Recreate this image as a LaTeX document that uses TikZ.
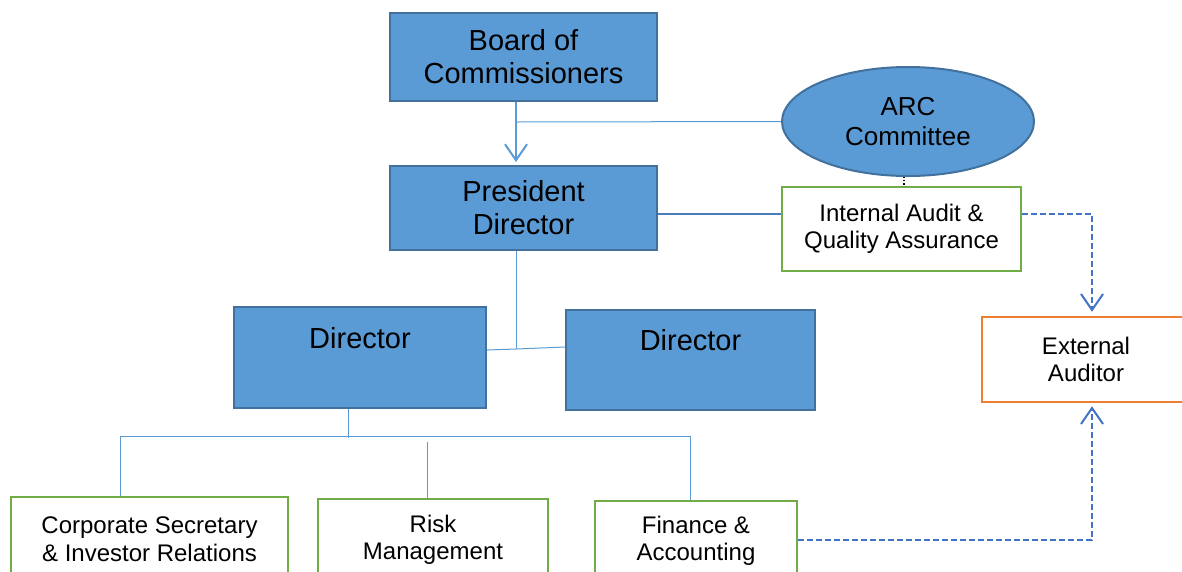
\documentclass[tikz,border=0pt]{standalone}
\usepackage{fontspec}
\setmainfont{Liberation Sans}
\usepackage{tikz}
\usetikzlibrary{calc}
\usetikzlibrary{arrows.meta,shapes.geometric}

\definecolor{boxblue}{HTML}{5B9BD5}
\definecolor{boxedge}{HTML}{41719C}
\definecolor{boxgreen}{HTML}{70AD47}
\definecolor{boxorange}{HTML}{ED7D31}
\definecolor{linkblue}{HTML}{4A7EBB}
\definecolor{dashblue}{HTML}{4472C4}

\begin{document}
\begin{tikzpicture}[x=1pt, y=-1pt,
	bluebox/.style={rectangle, draw=boxedge, line width=2pt, fill=boxblue, align=center, inner sep=0pt, font=\fontsize{29}{33}\selectfont},
	dirbox/.style={bluebox, text height=21pt, text depth=40pt},
	greenbox/.style={rectangle, draw=boxgreen, line width=2.5pt, fill=white, align=center, inner sep=0pt, font=\fontsize{24}{27.5}\selectfont},
	orangebox/.style={greenbox, draw=boxorange},
	orgline/.style={draw=boxblue, line width=1pt},
	vtip/.style={-{Straight Barb[length=16pt,width=22pt,line width=2pt]}},
	dasharrow/.style={draw=dashblue, line width=2pt, dash pattern=on 6pt off 3pt, vtip}]
			\useasboundingbox (0,0) rectangle (1182,571);

			\node[bluebox, minimum width=267pt, minimum height=88pt] (board) at (523.5,57) {Board of\\Commissioners};
			\node[bluebox, minimum width=267pt, minimum height=84pt] (pres) at (523.5,208) {President\\Director};
			\node[ellipse, draw=boxedge, line width=2pt, fill=boxblue, align=center, inner sep=0pt, minimum width=252pt, minimum height=109pt, font=\fontsize{26}{30}\selectfont] (arc) at (908,121.5) {ARC\\Committee};
			\node[greenbox, minimum width=239pt, minimum height=84pt] (ia) at (901.5,229) {Internal Audit \&\\Quality Assurance};
			\node[orangebox, minimum width=208pt, minimum height=85pt] (ext) at (1086,359.5) {External\\Auditor};

			\node[dirbox, minimum width=252pt, minimum height=101pt] (dirL) at (360,357.5) {Director};
			\node[dirbox, minimum width=249pt, minimum height=100pt] (dirR) at (690.5,360) {Director};

			% bottom row, cut off by the page edge
			\node[greenbox, minimum width=277pt, minimum height=84pt] (corp) at (149.5,539) {Corporate Secretary\\\& Investor Relations};
			\node[greenbox, minimum width=230pt, minimum height=82pt] (risk) at (433,540) {Risk\\Management};
			\node[greenbox, minimum width=202pt, minimum height=80pt] (fin) at (696,541) {Finance \&\\Accounting};

			\coordinate (jD) at (516,349);
			\coordinate (jB) at (348,438);

			\draw[draw=boxblue, line width=2pt, vtip] ($(board.south)+(-7.5,0)$) -- ($(pres.north)+(-7.5,-3)$);
			\draw[orgline] ($(board.south)+(-7.5,20)$) -- (arc.west);
			\draw[black, line width=1.2pt, dotted] ($(arc.south)+(-4,0)$) -- ($(ia.north)+(2.5,0)$);
			\draw[draw=linkblue, line width=1.5pt] ($(pres.east)+(0,6)$) -- ($(ia.west)+(0,-15)$);

			\draw[orgline] ($(pres.south)+(-7.5,0)$) -- (jD);
			\draw[orgline] ($(dirL.east)+(0,-7.5)$) -- (jD) -- ($(dirR.west)+(0,-13)$);

			\draw[orgline] ($(dirL.south)+(-12,0)$) -- (jB);
			\draw[orgline] ($(corp.north)+(-29.5,0)$) |- ($(fin.north)+(-6,-63)$) -- ($(fin.north)+(-6,0)$);
			\draw[orgline] ($(risk.north)+(-6,-56)$) -- ($(risk.north)+(-6,0)$);

			\draw[dasharrow] ($(ia.east)+(0,-15)$) -| ($(ext.north)+(6,-4)$);
			\draw[dasharrow] ($(fin.east)+(0,-1)$) -| ($(ext.south)+(6,3)$);

		\end{tikzpicture}
\end{document}
